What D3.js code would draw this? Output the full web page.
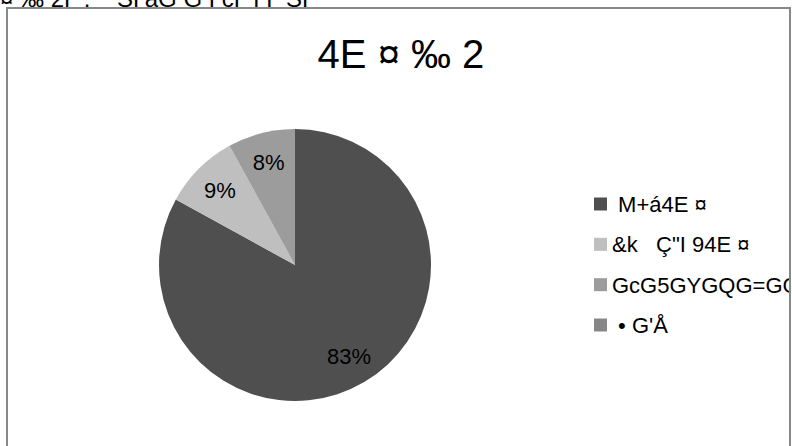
<!DOCTYPE html>
<html>
<head>
<meta charset="utf-8">
<script src="https://cdn.jsdelivr.net/npm/d3@7"></script>
<style>
  html, body { margin: 0; padding: 0; background: #fff; }
  svg { display: block; }
  text { font-family: "Liberation Sans", Arial, sans-serif; white-space: pre; }
</style>
</head>
<body>
<svg id="chart" width="792" height="446"></svg>
<script>
const headerText = "¤ ‰ 2Г :    ЅГаG G ГҫГ ГГ ЅГ";
const titleText = "4E ¤ ‰ 2";
const categories = [" M+á4E ¤", "&k   Ç\"I 94E ¤", "GcG5GYGQG=GG", " • G'Å"];
const values = [83, 9, 8, 0];
const colors = ["#4f4f4f", "#bfbfbf", "#9c9c9c", "#878787"];

const svg = d3.select("#chart");

// header (cut off at top, as in the source)
svg.append("text")
  .attr("x", 0).attr("y", 7)
  .attr("font-size", 24)
  .attr("fill", "#000")
  .text(headerText);

// chart frame
svg.append("rect")
  .attr("x", 7).attr("y", 8)
  .attr("width", 783).attr("height", 460)
  .attr("fill", "#fff")
  .attr("stroke", "#888")
  .attr("stroke-width", 2);

svg.append("clipPath").attr("id", "frameClip")
  .append("rect").attr("x", 8).attr("y", 9).attr("width", 781).attr("height", 440);

// title
svg.append("text")
  .attr("x", 401).attr("y", 68)
  .attr("text-anchor", "middle")
  .attr("font-size", 40)
  .attr("fill", "#000")
  .text(titleText);

// pie
const cx = 295, cy = 265, r = 136;
const pie = d3.pie().sort(null).value(d => d)(values);
const arc = d3.arc().innerRadius(0).outerRadius(r);
const labelArc = d3.arc().innerRadius(r * 0.78).outerRadius(r * 0.78);
const total = d3.sum(values);

const g = svg.append("g").attr("transform", `translate(${cx},${cy})`);
g.selectAll("path.slice").data(pie).enter().append("path")
  .attr("class", "slice")
  .attr("d", arc)
  .attr("fill", (d, i) => colors[i]);

g.selectAll("text.lbl").data(pie.filter(d => d.value > 0)).enter().append("text")
  .attr("class", "lbl")
  .attr("transform", d => {
    const c = labelArc.centroid(d);
    return `translate(${c[0]},${c[1]})`;
  })
  .attr("text-anchor", "middle")
  .attr("dy", "0.36em")
  .attr("font-size", 22)
  .attr("fill", "#000")
  .text(d => Math.round(d.value / total * 100) + "%");

// legend
const legendY = d3.scalePoint().domain(d3.range(categories.length)).range([204, 325]);
const lg = svg.append("g").attr("clip-path", "url(#frameClip)");
const items = lg.selectAll("g.item").data(categories).enter().append("g")
  .attr("class", "item")
  .attr("transform", (d, i) => `translate(594,${legendY(i)})`);
items.append("rect")
  .attr("x", 0).attr("y", -6.5)
  .attr("width", 13).attr("height", 13)
  .attr("fill", (d, i) => colors[i]);
items.append("text")
  .attr("x", 18).attr("y", 8)
  .attr("font-size", 22)
  .attr("fill", "#000")
  .text(d => d);
</script>
</body>
</html>
